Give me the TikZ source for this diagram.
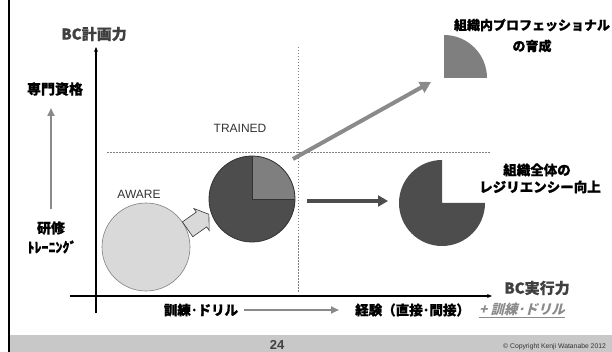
\documentclass[tikz,border=0pt]{standalone}
\usepackage{fontspec}
\setmainfont{Liberation Sans}
\newfontfamily\jp{Noto Sans CJK JP}[FakeBold=0.6]
\newfontfamily\jpsl{Noto Sans CJK JP}[FakeSlant=0.25]
\usetikzlibrary{arrows.meta}
\definecolor{pdark}{HTML}{4D4D4D}
\definecolor{plight}{HTML}{7F7F7F}
\definecolor{pline}{HTML}{333333}
\definecolor{awarefill}{HTML}{D9D9D9}
\definecolor{footgray}{HTML}{C8C8C8}
\definecolor{txtgray}{HTML}{404040}
\definecolor{arrgray}{HTML}{8A8A8A}
\tikzset{
  axisline/.style={line width=1.3pt, black, -{Stealth[length=5pt,width=4pt]}},
  dotline/.style={gray, line width=0.6pt, dash pattern=on 1.5pt off 1.5pt},
  jplabel/.style={font=\jp\bfseries\fontsize{14}{16}\selectfont, text=black, inner sep=0pt, align=center},
  axislabel/.style={font=\jp\bfseries\fontsize{15}{17}\selectfont, text=txtgray, inner sep=0pt},
  entext/.style={font=\fontsize{12}{14}\selectfont, text=pline, inner sep=0pt},
  grayarrow/.style={arrgray, line width=2pt, -{Triangle[length=8pt,width=7pt]}},
}
\begin{document}
\begin{tikzpicture}[x=1pt,y=-1pt]
\useasboundingbox (0,0) rectangle (612,352);
\clip (0,0) rectangle (612,352);
% footer and left border
\fill[footgray] (10,335) rectangle (612,352);
\draw[line width=2.5pt] (9,0) -- (9,352);
\node[font=\bfseries\fontsize{13}{14}\selectfont, text=txtgray, inner sep=0pt] (page) at (277,345) {24};
\node[font=\fontsize{6.8}{8}\selectfont, text=pline, anchor=west, inner sep=0pt] (copy) at (503,347) {\copyright{} Copyright Kenji Watanabe 2012};
% dotted quadrant lines
\coordinate (hl) at (107,152); \coordinate (hr) at (491,152);
\coordinate (vt) at (298,47); \coordinate (vb) at (298,293);
\draw[dotline] (hl) -- (hr);
\draw[dotline] (vt) -- (vb);
% axes
\coordinate (yb) at (96,313); \coordinate (yt) at (96,47);
\coordinate (xl) at (70,296); \coordinate (xr) at (492,296);
\draw[axisline] (yb) -- (yt);
\draw[axisline] (xl) -- (xr);
\node[axislabel] (ylab) at (94,34) {BC計画力};
\node[axislabel] (xlab) at (537,288) {BC実行力};
% left side labels
\node[jplabel] (senmon) at (55,89) {専門資格};
\node[jplabel] (kenshu) at (51,228) {研修};
\node[jplabel] (training) at (52,247) {ﾄﾚｰﾆﾝｸﾞ};
\draw[grayarrow] (51,209) -- (51,108);
% bottom labels
\node[jplabel, font=\jp\bfseries\fontsize{13.5}{16}\selectfont] (kunren) at (201,310) {訓練･ドリル};
\node[jplabel, font=\jp\bfseries\fontsize{13.5}{16}\selectfont, anchor=west] (keiken) at (355,310) {経験（直接･間接）};
\node[font=\jpsl\bfseries\fontsize{13.5}{16}\selectfont, text=arrgray, anchor=west, inner sep=0pt] (plus) at (479,310) {\underline{+ 訓練･ドリル}};
\draw[grayarrow] (kunren.east) ++(6,0) coordinate (ka) -- (keiken.west -| 339,0) coordinate (kb);
% AWARE
\node[entext] (awaretxt) at (139,194) {AWARE};
\coordinate (awareC) at (146,247);
\draw[fill=awarefill, draw=gray, line width=0.6pt] (awareC) circle (44);
% block arrow
\draw[fill=awarefill, draw=pline, line width=0.6pt] (182.4,221.9) -- (196.3,212.1) -- (193.8,208.5) -- (208.9,214.3) -- (209.2,230.5) -- (206.7,226.9) -- (192.8,236.7) -- cycle;
% TRAINED pie
\node[entext] (trainedtxt) at (240,128) {TRAINED};
\coordinate (trainedC) at (252,199);
\fill[pdark] (trainedC) circle (43);
\fill[plight] (trainedC) -- ++(43,0) arc[start angle=0, end angle=-90, radius=43] -- cycle;
\draw[pline, line width=0.8pt] (trainedC) circle (43);
\draw[pline, line width=0.8pt] ([yshift=43pt]trainedC) -- (trainedC) -- ++(43,0);
% professional quarter
\coordinate (proC) at (444,78);
\fill[plight] (proC) -- ++(43,0) arc[start angle=0, end angle=-90, radius=43] -- cycle;
\node[jplabel, font=\jp\bfseries\fontsize{13}{15}\selectfont] (pro1) at (532,25) {組織内プロフェッショナル};
\node[jplabel, font=\jp\bfseries\fontsize{13}{15}\selectfont] (pro2) at (532,46) {の育成};
\coordinate (ga1) at (293,159); \coordinate (ga2) at (431,82);
\draw[arrgray, line width=4pt, -{Triangle[length=11pt,width=12pt]}] (ga1) -- (ga2);
% resilience pie
\coordinate (resC) at (442,203);
\fill[pdark] (resC) -- ++(0,-43) arc[start angle=-90, end angle=-360, radius=43] -- cycle;
\coordinate (da1) at (307,201); \coordinate (da2) at (388,201);
\draw[pdark, line width=3.5pt, -{Triangle[length=10pt,width=11pt]}] (da1) -- (da2);
\node[jplabel, font=\jp\bfseries\fontsize{13.5}{15}\selectfont] (res1) at (537,170) {組織全体の};
\node[jplabel, font=\jp\bfseries\fontsize{13.5}{15}\selectfont] (res2) at (540,187) {レジリエンシー向上};
\end{tikzpicture}
\end{document}
